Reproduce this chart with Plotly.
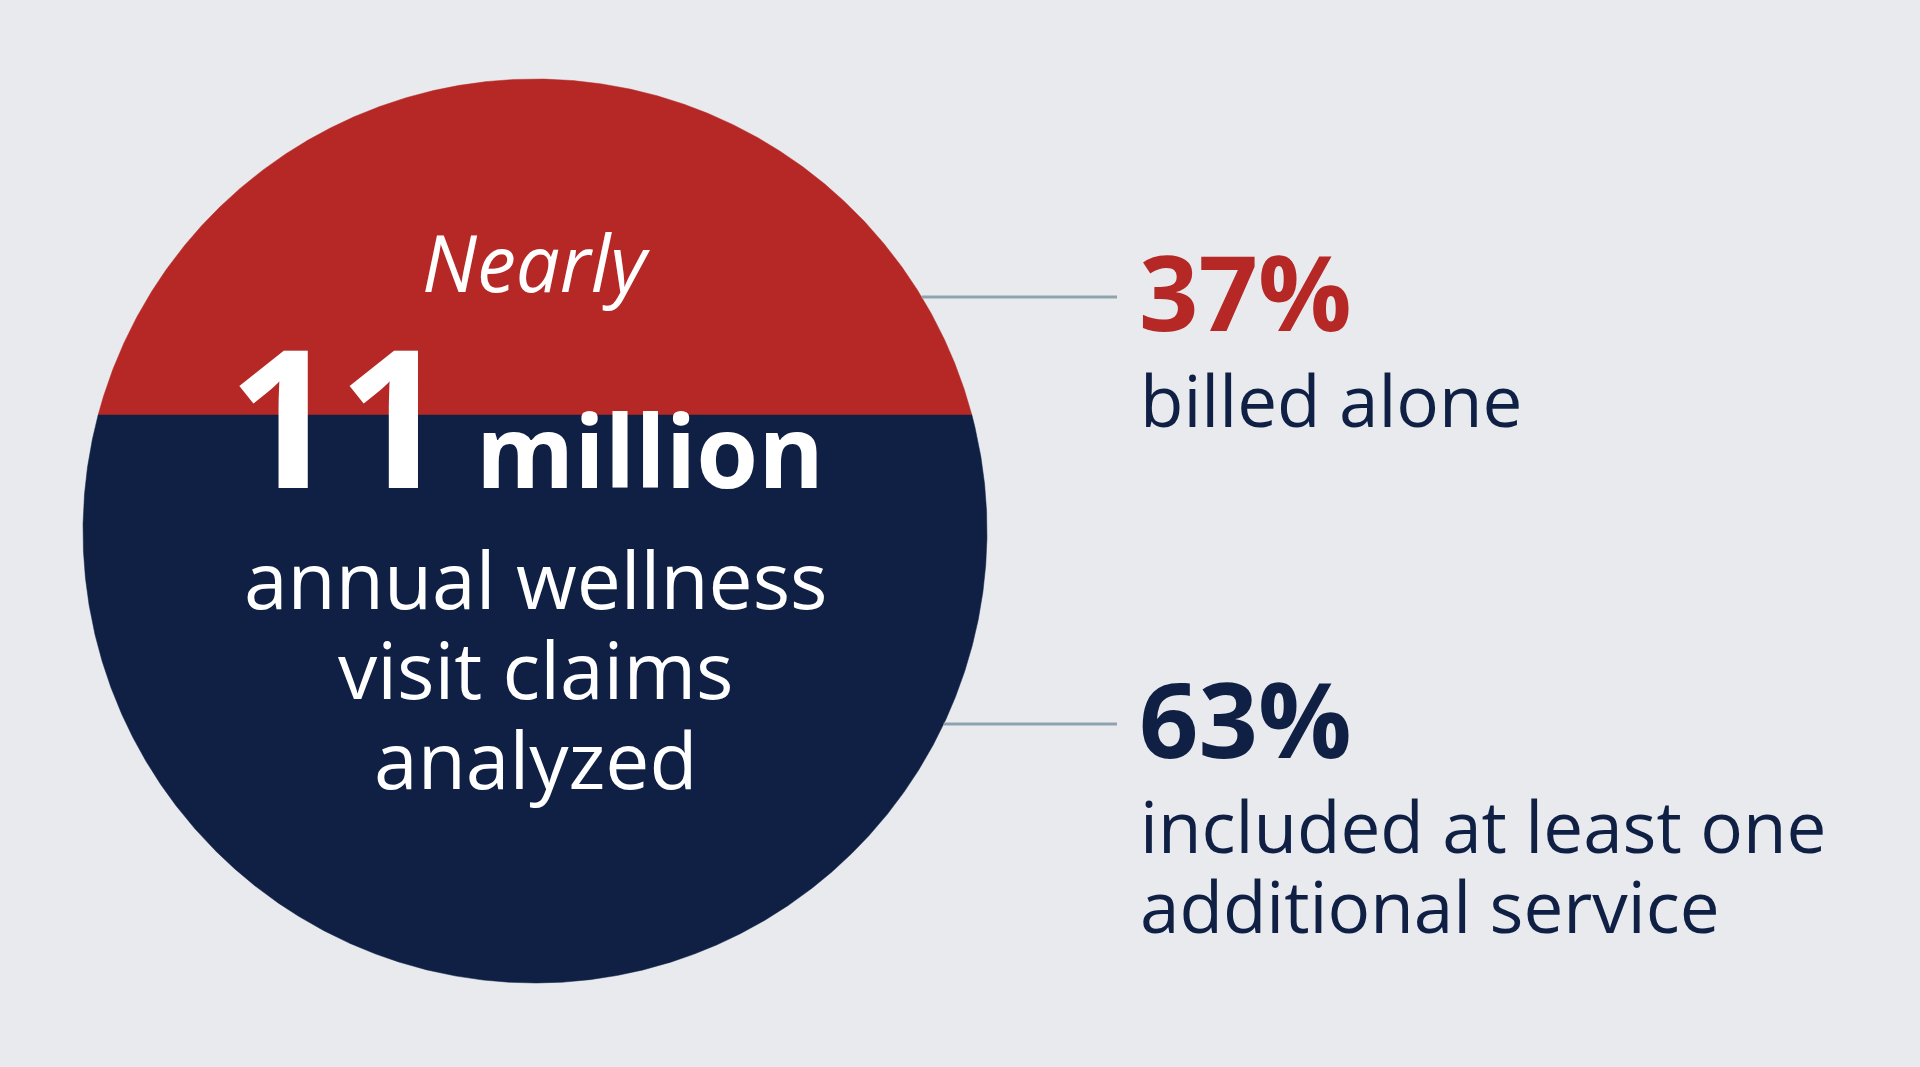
import numpy as np
import plotly.graph_objects as go

# ---------------- data ----------------
claims_total_millions = 11
claims_qualifier = "Nearly"
claims_unit = "million"
claims_caption = ["annual wellness", "visit claims", "analyzed"]
share_labels = ["billed alone", "included at least one additional service"]
share_values = [37, 63]
share_caption_lines = [["billed alone"], ["included at least one", "additional service"]]

# ---------------- style / layout constants ----------------
W, H = 1920, 1067
BG = "#E8EAEE"
RED = "#B52825"
NAVY = "#0F2044"
LINE = "#8FA3AF"
WHITE = "#FFFFFF"
FONT = "Open Sans"
CX, CY, R = 535, 531, 452
CHORD_Y = 415
LINE_END_X = 1117
CALLOUT_Y = [297, 724]
SHARE_COLORS = [RED, NAVY]
PLOTLY_LINE_SPACING = 1.3

fig = go.Figure()

# circle split into two colored segments
t0 = np.degrees(np.arcsin((CY - CHORD_Y) / R))
t_top = np.radians(np.linspace(t0, 180 - t0, 700))
t_bot = np.radians(np.linspace(180 - t0, 360 + t0, 1100))
for t, col in [(t_top, RED), (t_bot, NAVY)]:
    xs = CX + R * np.cos(t)
    ys = CY - R * np.sin(t)
    fig.add_trace(go.Scatter(x=np.append(xs, xs[0]), y=np.append(ys, ys[0]),
                             mode="lines", fill="toself", fillcolor=col,
                             line=dict(width=0.5, color=col), hoverinfo="skip",
                             showlegend=False))

# connector lines from the circle edge
for yy in CALLOUT_Y:
    x0 = CX + np.sqrt(R**2 - (yy - CY) ** 2)
    fig.add_trace(go.Scatter(x=[x0, LINE_END_X], y=[yy, yy], mode="lines",
                             line=dict(color=LINE, width=3), hoverinfo="skip",
                             showlegend=False))


def txt(lines, x, baselines, size, color, xanchor="left", weight=400,
        style="normal"):
    """Place one or more lines; baselines give the first/last line baselines."""
    if isinstance(lines, str):
        lines = [lines]
        baselines = [baselines]
    if len(lines) > 1:
        gap = (baselines[-1] - baselines[0]) / (len(lines) - 1)
        base = gap / PLOTLY_LINE_SPACING
        text = "<br>".join(f"<span style='font-size:{size}px'>{l}</span>" for l in lines)
    else:
        base = size
        text = lines[0]
    y = (baselines[0] + baselines[-1]) / 2 - 0.388 * size
    fig.add_annotation(x=x, y=y, text=text, showarrow=False, xanchor=xanchor,
                       yanchor="middle", xref="x", yref="y", borderpad=0,
                       align="center" if xanchor == "center" else "left",
                       font=dict(family=FONT, size=base, color=color,
                                 weight=weight, style=style))


txt(claims_qualifier, 536, 292, 78, WHITE, "center", style="italic")
txt(str(claims_total_millions), 450, 488, 193, WHITE, "right", weight=700)
txt(claims_unit, 475, 488, 100, WHITE, "left", weight=700)
txt(claims_caption, 535, [609, 699, 789], 78.5, WHITE, "center")

pct_baselines = [331, 758]
cap_baselines = [[427], [853, 933]]
for v, col, pb, lines, cbs in zip(share_values, SHARE_COLORS, pct_baselines,
                                  share_caption_lines, cap_baselines):
    txt(f"{v}%", 1138, pb, 104, col, "left", weight=700)
    if len(lines) == 1:
        txt(lines[0], 1139, cbs[0], 71, NAVY, "left")
    else:
        txt(lines, 1139, cbs, 71, NAVY, "left")

fig.update_layout(
    width=W, height=H, margin=dict(l=0, r=0, t=0, b=0),
    paper_bgcolor=BG, plot_bgcolor=BG, showlegend=False,
    xaxis=dict(range=[0, W], visible=False, fixedrange=True),
    yaxis=dict(range=[H, 0], visible=False, fixedrange=True),
)

fig.write_html("out.html", config={"displayModeBar": False},
               post_script="document.body.style.margin='0';document.body.style.overflow='hidden';")
